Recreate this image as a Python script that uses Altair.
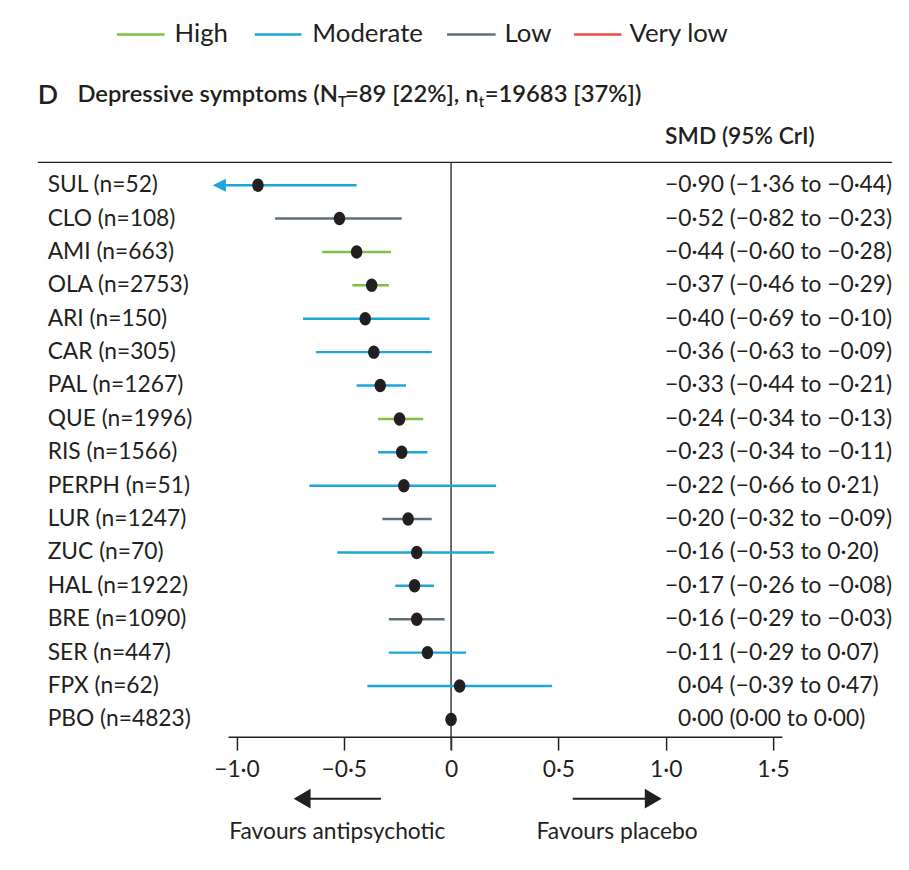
import altair as alt
import pandas as pd

# ---------------- data ----------------
drugs = ["SUL", "CLO", "AMI", "OLA", "ARI", "CAR", "PAL", "QUE", "RIS", "PERPH",
         "LUR", "ZUC", "HAL", "BRE", "SER", "FPX", "PBO"]
n_patients = [52, 108, 663, 2753, 150, 305, 1267, 1996, 1566, 51,
              1247, 70, 1922, 1090, 447, 62, 4823]
smd = [-0.90, -0.52, -0.44, -0.37, -0.40, -0.36, -0.33, -0.24, -0.23, -0.22,
       -0.20, -0.16, -0.17, -0.16, -0.11, 0.04, 0.00]
ci_low = [-1.36, -0.82, -0.60, -0.46, -0.69, -0.63, -0.44, -0.34, -0.34, -0.66,
          -0.32, -0.53, -0.26, -0.29, -0.29, -0.39, 0.00]
ci_high = [-0.44, -0.23, -0.28, -0.29, -0.10, -0.09, -0.21, -0.13, -0.11, 0.21,
           -0.09, 0.20, -0.08, -0.03, 0.07, 0.47, 0.00]
certainty = ["Moderate", "Low", "High", "High", "Moderate", "Moderate", "Moderate",
             "High", "Moderate", "Moderate", "Low", "Moderate", "Moderate", "Low",
             "Moderate", "Moderate", ""]

certainty_levels = ["High", "Moderate", "Low", "Very low"]
certainty_colors = ["#7bc144", "#1ba6d7", "#5e717b", "#ee4a40"]

tick_values = [-1.0, -0.5, 0.0, 0.5, 1.0, 1.5]
tick_labels = ["\u22121\u00b70", "\u22120\u00b75", "0", "0\u00b75", "1\u00b70", "1\u00b75"]

panel_letter = "D"
title_parts = ["Depressive symptoms (N", "T", "=89 [22%], n", "t", "=19683 [37%])"]
column_header = "SMD (95% CrI)"
favours_labels = ["Favours antipsychotic", "Favours placebo"]

# ---------------- styling ----------------
INK = "#231f20"
FONT = "Lato"
W, H = 862, 580
X_DOMAIN = [-1.926, 2.055]
Y_DOMAIN = [-0.683, 16.534]
CLIP = -1.06          # left end of the drawn CI range
AXIS_EXTENT = [-1.037, 1.544]


def fmt(v):
    return f"{v:.2f}".replace(".", "\u00b7").replace("-", "\u2212")


df = pd.DataFrame({
    "drug": drugs, "n": n_patients, "smd": smd, "ci_low": ci_low,
    "ci_high": ci_high, "certainty": certainty,
})
df["row"] = range(len(df))
df["label"] = [f"{d} (n={n})" for d, n in zip(drugs, n_patients)]
df["summary"] = [f"{fmt(s)} ({fmt(l)} to {fmt(h)})" for s, l, h in zip(smd, ci_low, ci_high)]
df["lo_plot"] = [max(l, CLIP) for l in ci_low]
df["clipped"] = [l < CLIP for l in ci_low]
df["positive"] = [s >= 0 for s in smd]

one = pd.DataFrame({"k": [0]})

x_scale = alt.Scale(domain=X_DOMAIN, nice=False, zero=False)
y_scale = alt.Scale(domain=Y_DOMAIN, reverse=True, nice=False, zero=False)
label_expr = " : ".join(
    f"datum.value == {v} ? '{t}'" for v, t in zip(tick_values, tick_labels)
) + " : ''"
x_axis = alt.Axis(values=tick_values, labelExpr=label_expr, title=None, domain=False,
                  grid=False, ticks=True, tickSize=13, tickWidth=1.5, tickColor=INK,
                  labelFont=FONT, labelFontSize=23, labelColor=INK, labelPadding=9)

X = lambda f: alt.X(f, scale=x_scale, axis=x_axis)
Y = alt.Y("row:Q", scale=y_scale, axis=None)
color = alt.Color("certainty:N",
                  scale=alt.Scale(domain=certainty_levels, range=certainty_colors),
                  legend=None)

base = alt.Chart(df)

ci = base.transform_filter("datum.certainty != ''").mark_rule(strokeWidth=2.5).encode(
    x=X("lo_plot:Q"), x2="ci_high:Q", y=Y, color=color)

left_tri = "M1,-1L-1,0L1,1Z"
arrow = base.transform_filter("datum.clipped").mark_point(
    shape=left_tri, filled=True, size=175, opacity=1).encode(
    x=alt.datum(CLIP - 0.02), y=Y, color=color)

ellipse = "M-0.85,0A0.85,1,0,1,0,0.85,0A0.85,1,0,1,0,-0.85,0Z"
points = base.mark_point(shape=ellipse, filled=True, size=185, color=INK,
                         opacity=1, strokeWidth=0).encode(x=X("smd:Q"), y=Y)

labels = base.mark_text(align="left", baseline="middle", font=FONT, fontSize=23,
                        color=INK).encode(x=alt.value(10), y=Y, text="label:N")

summ_neg = base.transform_filter("!datum.positive").mark_text(
    align="left", baseline="middle", font=FONT, fontSize=23, color=INK).encode(
    x=alt.value(633), y=Y, text="summary:N")
summ_pos = base.transform_filter("datum.positive").mark_text(
    align="left", baseline="middle", font=FONT, fontSize=23, color=INK).encode(
    x=alt.value(646), y=Y, text="summary:N")

top_rule = alt.Chart(one).mark_rule(color=INK, strokeWidth=1.5).encode(
    x=alt.value(0), x2=alt.value(W), y=alt.value(0))
zero_line = alt.Chart(one).mark_rule(color="#3a3a3a", strokeWidth=1.5).encode(
    x=alt.datum(0), y=alt.value(0), y2=alt.value(H + 13))
axis_line = alt.Chart(one).mark_rule(color=INK, strokeWidth=1.5).encode(
    x=alt.datum(AXIS_EXTENT[0]), x2=alt.datum(AXIS_EXTENT[1]), y=alt.value(H))

# favours arrows
ARROW_Y = 642
big_left = "M0.85,-1L-0.85,0L0.85,1Z"
big_right = "M-0.85,-1L0.85,0L-0.85,1Z"
fav_layers = [
    alt.Chart(one).mark_rule(color=INK, strokeWidth=2).encode(
        x=alt.datum(-0.694), x2=alt.datum(-0.327), y=alt.value(ARROW_Y)),
    alt.Chart(one).mark_point(shape=big_left, filled=True, size=400, color=INK,
                              opacity=1, strokeWidth=0).encode(
        x=alt.datum(-0.694), y=alt.value(ARROW_Y)),
    alt.Chart(one).mark_rule(color=INK, strokeWidth=2).encode(
        x=alt.datum(0.567), x2=alt.datum(0.942), y=alt.value(ARROW_Y)),
    alt.Chart(one).mark_point(shape=big_right, filled=True, size=400, color=INK,
                              opacity=1, strokeWidth=0).encode(
        x=alt.datum(0.942), y=alt.value(ARROW_Y)),
    alt.Chart(one).mark_text(font=FONT, fontSize=23, color=INK, align="center",
                             baseline="middle").encode(
        x=alt.datum(-0.530), y=alt.value(676), text=alt.value(favours_labels[0])),
    alt.Chart(one).mark_text(font=FONT, fontSize=23, color=INK, align="center",
                             baseline="middle").encode(
        x=alt.datum(0.774), y=alt.value(676), text=alt.value(favours_labels[1])),
]

# legend (drawn by hand, horizontal)
LEG_Y = -129
leg_line_x = [(80, 128), (219, 266), (413, 462), (541, 589)]
leg_text_x = [138, 277, 471, 597]
leg_layers = []
for lvl, col, (a, b), tx in zip(certainty_levels, certainty_colors, leg_line_x, leg_text_x):
    leg_layers.append(alt.Chart(one).mark_rule(color=col, strokeWidth=2.5).encode(
        x=alt.value(a), x2=alt.value(b), y=alt.value(LEG_Y)))
    leg_layers.append(alt.Chart(one).mark_text(
        font=FONT, fontSize=26, color=INK, align="left", baseline="middle").encode(
        x=alt.value(tx), y=alt.value(LEG_Y), text=alt.value(lvl)))

# title pieces
TITLE_BASE = -61
title_layers = [
    alt.Chart(one).mark_text(font=FONT, fontSize=27, fontWeight=600, color=INK,
                             align="left", baseline="alphabetic").encode(
        x=alt.value(0), y=alt.value(TITLE_BASE + 2), text=alt.value(panel_letter)),
]
part_x = [40, 303, 310, 445, 451]
part_sub = [False, True, False, True, False]
for txt, px, sub in zip(title_parts, part_x, part_sub):
    title_layers.append(alt.Chart(one).mark_text(
        font=FONT, fontSize=15 if sub else 24, fontWeight=600, color=INK,
        align="left", baseline="alphabetic").encode(
        x=alt.value(px), y=alt.value(TITLE_BASE + (5 if sub else 0)), text=alt.value(txt)))

header = alt.Chart(one).mark_text(font=FONT, fontSize=23, fontWeight=600, color=INK,
                                  align="left", baseline="alphabetic").encode(
    x=alt.value(633), y=alt.value(-19), text=alt.value(column_header))

chart = alt.layer(
    top_rule, zero_line, axis_line, ci, arrow, points, labels, summ_neg, summ_pos,
    header, *title_layers, *leg_layers, *fav_layers,
).properties(
    width=W, height=H,
    autosize=alt.AutoSizeParams(type="none"),
    padding={"left": 30, "top": 152, "right": 9, "bottom": 108},
).configure_view(stroke=None)

chart.save("out.html", embed_options={"renderer": "svg", "actions": False})
